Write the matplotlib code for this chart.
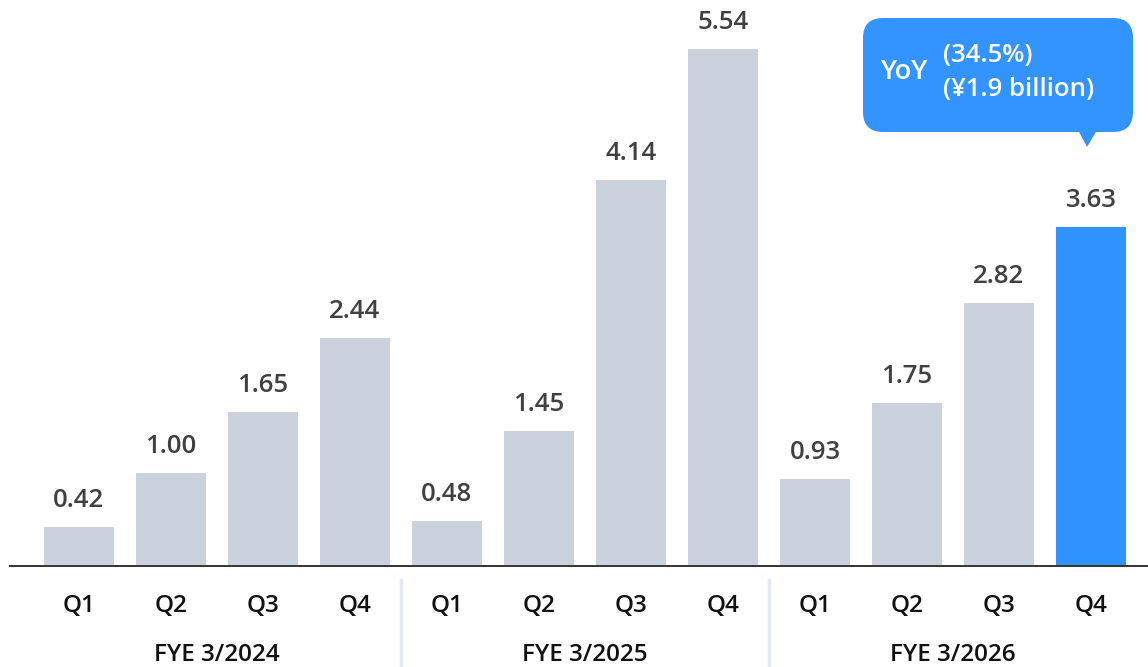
import matplotlib.pyplot as plt
from matplotlib.patches import FancyBboxPatch, Polygon

## quarterly values (¥ billion)
quarters = ["Q1", "Q2", "Q3", "Q4"] * 3
years = ["FYE 3/2024", "FYE 3/2025", "FYE 3/2026"]
values = [0.42, 1.00, 1.65, 2.44, 0.48, 1.45, 4.14, 5.54, 0.93, 1.75, 2.82, 3.63]
yoy_pct = "(34.5%)"
yoy_amt = "(¥1.9 billion)"

gray = "#cad3dd"
blue = "#3093ff"
colors = [gray] * 11 + [blue]

plt.rcParams['font.family'] = ['Open Sans', 'DejaVu Sans']

W, H = 1148, 667
fig = plt.figure(figsize=(W / 100, H / 100), dpi=100)
## axes placed in pixel terms: baseline at y=566 px from top
ax = fig.add_axes([10 / W, 101 / H, 1138 / W, 566 / H])
x = list(range(len(values)))
ax.bar(x, values, width=0.76, color=colors, zorder=2)
ax.set_xlim(-0.75, 11.62)
ax.set_ylim(0, 566 / 93.3)

for xi, v in zip(x, values):
    ax.annotate(f"{v:.2f}", (xi, v), xytext=(0, 10), textcoords="offset points",
                ha="center", va="bottom", fontsize=18.5, fontweight="semibold",
                color="#404040")

for s in ["top", "right", "left"]:
    ax.spines[s].set_visible(False)
ax.spines["bottom"].set_color("#333333")
ax.spines["bottom"].set_linewidth(1.4)
ax.set_yticks([])
ax.set_xticks(x)
ax.set_xticklabels(quarters, fontsize=17.5, fontweight="semibold", color="#111111")
ax.tick_params(axis="x", length=0, pad=20)

## fiscal year labels and separators
for i, yr in enumerate(years):
    ax.text(i * 4 + 1.5, -0.955, yr, ha="center", va="center", fontsize=17.5,
            fontweight="semibold", color="#111111", clip_on=False)
for b in [3.5, 7.5]:
    ax.plot([b, b], [-0.15, -1.1], color="#e6eaf0", lw=2.5, clip_on=False)

## YoY callout bubble
def fx(px):
    return px / W

def fy(py):
    return 1 - py / H

box = FancyBboxPatch((fx(883), fy(112)), fx(230), (132 - 18 - 40) / H,
                     boxstyle="round,pad=0,rounding_size=0.03",
                     transform=fig.transFigure, fc="#3394ff", ec="none",
                     mutation_aspect=W / H)
box.set_boxstyle("round", pad=20 / W, rounding_size=20 / W)
fig.patches.append(box)
tail = Polygon([(fx(1078), fy(130)), (fx(1097), fy(130)), (fx(1087), fy(147))],
               closed=True, transform=fig.transFigure, fc="#3394ff", ec="none")
fig.patches.append(tail)
fig.text(fx(880), fy(72), "YoY", ha="left", va="center", fontsize=19.5,
         fontweight="semibold", color="white")
fig.text(fx(943), fy(55), yoy_pct, ha="left", va="center", fontsize=18.5,
         fontweight="semibold", color="white")
fig.text(fx(943), fy(89), yoy_amt, ha="left", va="center", fontsize=18.5,
         fontweight="semibold", color="white")

fig.savefig("out.png", dpi=100)
